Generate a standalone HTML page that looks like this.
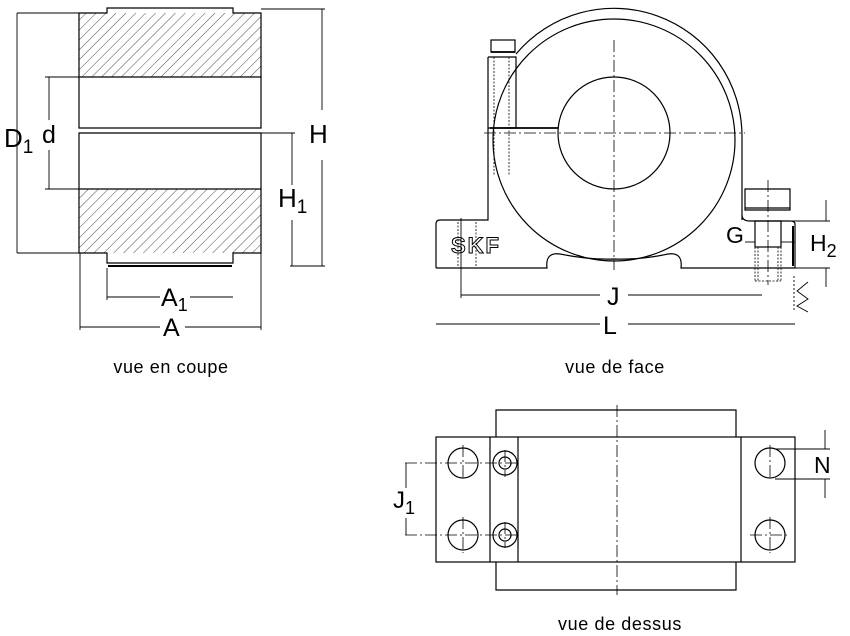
<!DOCTYPE html>
<html><head><meta charset="utf-8"><style>
html,body{margin:0;padding:0;background:#fff}
svg{display:block}
text{font-family:"Liberation Sans",sans-serif;fill:#000}
</style></head><body>
<svg width="850" height="636" viewBox="0 0 850 636" xmlns="http://www.w3.org/2000/svg">
<defs>
<pattern id="h" width="7" height="7" patternUnits="userSpaceOnUse" patternTransform="rotate(45)">
<line x1="0" y1="0" x2="0" y2="7" stroke="#000" stroke-width="0.7"/>
</pattern>
</defs>
<g stroke="#000" fill="none" stroke-width="1.2">
<!-- LEFT VIEW -->
<rect x="79" y="13" width="182" height="64" fill="url(#h)" stroke="none"/>
<rect x="79" y="189" width="182" height="64" fill="url(#h)" stroke="none"/>
<path d="M79 13 H107 V8 H233 V13 H261 V77 H79 Z"/>
<path d="M79 77 V128 H261 V77"/>
<path d="M79 133 H261 V189 H79 Z"/>
<path d="M79 189 V253 H107 V263 H233 V253 H261 V189"/>
<line x1="108" y1="266" x2="232" y2="266" stroke-width="2"/>
<g stroke-width="0.9">
<line x1="17" y1="13" x2="79" y2="13"/><line x1="17" y1="253" x2="79" y2="253"/>
<line x1="17" y1="13" x2="17" y2="253"/>
<line x1="45" y1="77" x2="79" y2="77"/><line x1="45" y1="189" x2="79" y2="189"/>
<line x1="49" y1="77" x2="49" y2="120"/><line x1="49" y1="150" x2="49" y2="189"/>
<line x1="261" y1="9" x2="325" y2="9"/><line x1="290" y1="266" x2="325" y2="266"/>
<line x1="322" y1="9" x2="322" y2="110"/><line x1="322" y1="160" x2="322" y2="266"/>
<line x1="261" y1="133" x2="295" y2="133"/>
<line x1="292" y1="133" x2="292" y2="185"/><line x1="292" y1="220" x2="292" y2="266"/>
<line x1="80" y1="253" x2="80" y2="330"/><line x1="261" y1="253" x2="261" y2="330"/>
<line x1="107" y1="268" x2="107" y2="300"/>
<line x1="107" y1="297" x2="160" y2="297"/><line x1="190" y1="297" x2="233" y2="297"/>
<line x1="80" y1="327" x2="160" y2="327"/><line x1="185" y1="327" x2="261" y2="327"/>
</g>
<!-- FRONT VIEW -->
<circle cx="614" cy="140" r="121"/>
<path d="M516 54 A128 128 0 0 1 742 136 V220"/>
<circle cx="614" cy="133" r="56"/>
<line x1="490" y1="128" x2="558" y2="128" stroke-width="1.8"/>
<path d="M436 268 V224 Q436 220 440 220 H488 V57 M488 57 H516 V128 H488"/>
<rect x="491" y="40" width="24" height="12"/>
<line x1="491" y1="52" x2="515" y2="52" stroke-width="1.8"/>
<path d="M436 268 H547 Q545 252 560 254 Q590 260 614 259 Q640 260 668 254 Q683 252 681 268 H795 V224 Q795 221 790 221"/>
<path d="M742 215 Q742 221 750 221 H790"/>
<path d="M745 189 H790 V210 H745 Z"/>
<line x1="745" y1="208" x2="790" y2="208"/>
<rect x="755" y="221" width="26" height="26"/>
<g stroke-dasharray="2 1.5" stroke-width="0.8">
<line x1="755" y1="247" x2="755" y2="281"/><line x1="781" y1="247" x2="781" y2="281"/>
<line x1="758" y1="247" x2="758" y2="281"/><line x1="778" y1="247" x2="778" y2="281"/>
<line x1="755" y1="281" x2="781" y2="281"/>
<line x1="494" y1="57" x2="494" y2="175"/><line x1="509" y1="57" x2="509" y2="175"/>
<line x1="458" y1="222" x2="458" y2="268"/><line x1="476" y1="222" x2="476" y2="268"/>
</g>
<line x1="793" y1="226" x2="793" y2="266" stroke-width="2"/>
<g stroke-width="0.8" stroke-dasharray="12 3 2 3">
<line x1="484" y1="133" x2="745" y2="133"/>
<line x1="614" y1="40" x2="614" y2="270"/>
<line x1="768" y1="180" x2="768" y2="285"/>
</g>
<g stroke-width="0.9">
<line x1="461" y1="218" x2="461" y2="298"/>
<line x1="461" y1="295" x2="600" y2="295"/><line x1="628" y1="295" x2="762" y2="295"/>
<line x1="436" y1="324" x2="600" y2="324"/><line x1="628" y1="324" x2="795" y2="324"/>
<line x1="790" y1="221" x2="830" y2="221"/><line x1="795" y1="268" x2="830" y2="268"/>
<line x1="826" y1="200" x2="826" y2="221"/><line x1="826" y1="268" x2="826" y2="287"/>
<line x1="745" y1="242" x2="755" y2="242"/><line x1="781" y1="242" x2="795" y2="242"/>
<path d="M808 282 L797 291 L808 299 L797 306 L808 312"/>
<line x1="794" y1="276" x2="794" y2="312" stroke-dasharray="2 2"/>
</g>
<!-- TOP VIEW -->
<path d="M496 437 V410 H736 V437 M496 562 V590 H736 V562"/>
<rect x="436" y="437" width="359" height="125"/>
<line x1="490" y1="437" x2="490" y2="562"/><line x1="518" y1="437" x2="518" y2="562"/>
<line x1="741" y1="437" x2="741" y2="562"/>
<circle cx="463" cy="463" r="15"/><circle cx="463" cy="535" r="15"/>
<circle cx="770" cy="463" r="15"/><circle cx="770" cy="535" r="15"/>
<circle cx="505" cy="463" r="12"/><circle cx="505" cy="463" r="6"/>
<circle cx="505" cy="535" r="12"/><circle cx="505" cy="535" r="6"/>
<g stroke-width="0.8" stroke-dasharray="12 3 2 3">
<line x1="617" y1="405" x2="617" y2="595"/>
<line x1="405" y1="463" x2="520" y2="463"/><line x1="405" y1="535" x2="520" y2="535"/>
<line x1="463" y1="445" x2="463" y2="480"/><line x1="463" y1="517" x2="463" y2="553"/>
<line x1="770" y1="445" x2="770" y2="480"/><line x1="770" y1="517" x2="770" y2="553"/>
<line x1="750" y1="535" x2="790" y2="535"/>
<line x1="505" y1="450" x2="505" y2="477"/><line x1="505" y1="522" x2="505" y2="548"/>
</g>
<g stroke-width="0.9">
<line x1="406" y1="463" x2="406" y2="488"/><line x1="406" y1="518" x2="406" y2="535"/>
<line x1="775" y1="449" x2="830" y2="449"/><line x1="775" y1="479" x2="830" y2="479"/>
<line x1="825" y1="430" x2="825" y2="449"/><line x1="825" y1="479" x2="825" y2="498"/>
</g>
</g>
<text x="4" y="147" font-size="26">D<tspan font-size="19" dy="6">1</tspan></text>
<text x="42" y="143" font-size="25">d</text>
<text x="309" y="143" font-size="26">H</text>
<text x="278" y="207" font-size="26">H<tspan font-size="19" dy="6">1</tspan></text>
<text x="161" y="306" font-size="25">A<tspan font-size="18" dy="5">1</tspan></text>
<text x="163" y="336" font-size="25">A</text>
<text x="171" y="373" font-size="18" letter-spacing="0.6" text-anchor="middle">vue en coupe</text>
<text x="451" y="253" font-size="22" font-weight="bold" letter-spacing="2" fill="none" stroke="#000" stroke-width="1" style="fill:none">SKF</text>
<text x="726" y="243" font-size="23">G</text>
<text x="810" y="251" font-size="23">H<tspan font-size="18" dy="6">2</tspan></text>
<text x="607" y="305" font-size="25">J</text>
<text x="603" y="334" font-size="25">L</text>
<text x="615" y="373" font-size="18" letter-spacing="0.6" text-anchor="middle">vue de face</text>
<text x="393" y="508" font-size="24">J<tspan font-size="18" dy="6">1</tspan></text>
<text x="814" y="473" font-size="23">N</text>
<text x="620" y="630" font-size="18" letter-spacing="0.6" text-anchor="middle">vue de dessus</text>
</svg>
</body></html>
